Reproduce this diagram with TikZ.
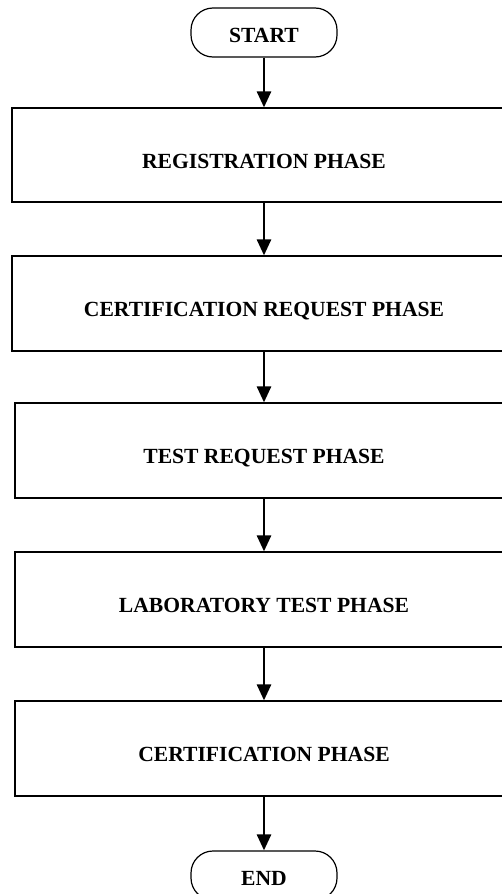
\documentclass[tikz,border=0pt]{standalone}
\usepackage{fontspec}
\setmainfont{Liberation Serif}
\usetikzlibrary{arrows.meta}
\begin{document}
\begin{tikzpicture}[x=1pt,y=-1pt,
  txt/.style={font=\bfseries\fontsize{21.6}{26}\selectfont},
  phase/.style={draw, line width=1.2pt, minimum height=95pt, inner sep=0pt, txt, text height=26pt, text depth=0pt},
  term/.style={draw, line width=1.2pt, rounded corners=22pt, minimum width=146pt, minimum height=49pt, inner sep=0pt, txt, text height=19pt, text depth=0pt},
  flow/.style={line width=2.7pt, -{Triangle[width=14pt,length=16pt]}}]
\useasboundingbox (0,0) rectangle (502,894);
\clip (0,0) rectangle (502,894);
\fill[white] (0,0) rectangle (502,894);
\node[term] (start) at (264,32.5) {START};
\node[phase, minimum width=504pt, minimum height=94pt] (p1) at (264,155) {REGISTRATION PHASE};
\node[phase, minimum width=504pt] (p2) at (264,303.5) {CERTIFICATION REQUEST PHASE};
\node[phase, minimum width=498pt] (p3) at (264,450.5) {TEST REQUEST PHASE};
\node[phase, minimum width=498pt] (p4) at (264,599.5) {LABORATORY TEST PHASE};
\node[phase, minimum width=498pt] (p5) at (264,748.5) {CERTIFICATION PHASE};
\node[term] (end) at (264,875.5) {END};
\draw[flow] (start) -- (p1);
\draw[flow] (p1) -- (p2);
\draw[flow] (p2) -- (p3);
\draw[flow] (p3) -- (p4);
\draw[flow] (p4) -- (p5);
\draw[flow] (p5) -- (end);
\end{tikzpicture}
\end{document}
